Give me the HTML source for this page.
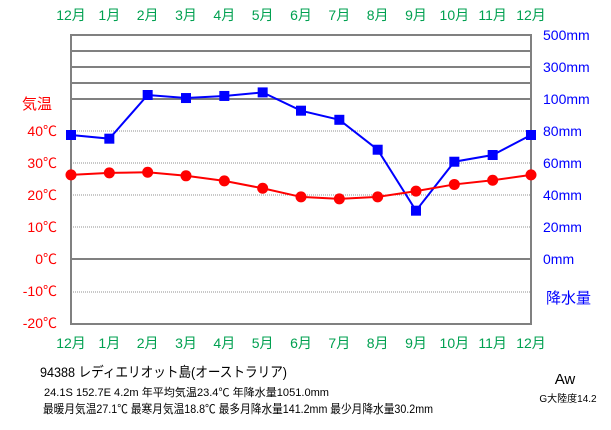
<!DOCTYPE html>
<html><head><meta charset="utf-8"><style>
body{margin:0;background:#fff;width:611px;height:425px;overflow:hidden}
text{font-family:"Liberation Sans","Noto Sans CJK JP",sans-serif}
</style></head><body>
<svg id="c" width="611" height="425" xmlns="http://www.w3.org/2000/svg"></svg>
<script>
const months=["12月","1月","2月","3月","4月","5月","6月","7月","8月","9月","10月","11月","12月"];
const temps=[26.3,26.9,27.1,26.0,24.4,22.1,19.4,18.8,19.4,21.2,23.3,24.6,26.3];
const precip=[77.5,75.2,125,106,119,141.2,92.7,87,68.3,30.2,60.8,65,77.5];
const tempTicks=[40,30,20,10,0,-10,-20];
const precipTicks=[500,300,100,80,60,40,20,0];
const NS="http://www.w3.org/2000/svg",svg=document.getElementById('c');
const L=71,R=531,T=35,B=324;
const xs=i=>L+i*(R-L)/12;
const ty=t=>259-t*3.2;
const py=p=>p<=100?259-p*1.6:99-(p-100)*0.16;
function el(tag,a,txt){const e=document.createElementNS(NS,tag);for(const k in a)e.setAttribute(k,a[k]);if(txt!=null)e.textContent=txt;svg.appendChild(e);return e;}
[51,67,83,99,259].forEach(y=>{const g=el('line',{x1:L,x2:R,y1:y,y2:y,stroke:'#808080','stroke-width':2});

});
[131,163,195,227,292].forEach(y=>{const g=el('line',{x1:L,x2:R,y1:y,y2:y,stroke:'#909090','stroke-width':1,'stroke-dasharray':'1,1'});

});
const fr=el('rect',{x:L,y:T,width:R-L,height:B-T,fill:'none',stroke:'#808080','stroke-width':2});


months.forEach((m,i)=>{[15,343].forEach((y,j)=>{const t=el('text',{x:xs(i),y:y+5,'text-anchor':'middle','font-size':14,fill:'#00a050'},m);

});});
tempTicks.forEach(v=>{const t=el('text',{x:57,y:ty(v)+5,'text-anchor':'end','font-size':14,fill:'#ff0000'},v+'℃');

});
precipTicks.forEach(v=>{const t=el('text',{x:543,y:py(v)+5,'font-size':14,fill:'#0000ff'},v+'mm');

});
let a=el('text',{x:22,y:109,'font-size':15,fill:'#ff0000'},'気温');

a=el('text',{x:546,y:303,'font-size':15,fill:'#0000ff'},'降水量');

let pl=el('polyline',{points:precip.map((p,i)=>xs(i)+','+py(p)).join(' '),fill:'none',stroke:'#0000ff','stroke-width':2});

precip.forEach((p,i)=>{const r=el('rect',{x:xs(i)-5,y:py(p)-5,width:10,height:10,fill:'#0000ff'});

});
let tl=el('polyline',{points:temps.map((t,i)=>xs(i)+','+ty(t)).join(' '),fill:'none',stroke:'#ff0000','stroke-width':2});

temps.forEach((t,i)=>{const c=el('circle',{cx:xs(i),cy:ty(t),r:5.5,fill:'#ff0000'});

});
const f=[[40,377,14,'94388  レディエリオット島(オーストラリア)','station-title',247],
[44,396,11,'24.1S  152.7E  4.2m  年平均気温23.4℃  年降水量1051.0mm','station-stats',285],
[43,413,12,'最暖月気温27.1℃ 最寒月気温18.8℃ 最多月降水量141.2mm 最少月降水量30.2mm','station-extremes',390]];
f.forEach(d=>{const t=el('text',{x:d[0],y:d[1],'font-size':d[2],fill:'#000',textLength:d[5],lengthAdjust:'spacingAndGlyphs'},d[3]);

});
a=el('text',{x:565,y:384,'text-anchor':'middle','font-size':15,fill:'#000'},'Aw');

a=el('text',{x:568,y:402,'text-anchor':'middle','font-size':10,fill:'#000'},'G大陸度14.2');

</script>
</body></html>
